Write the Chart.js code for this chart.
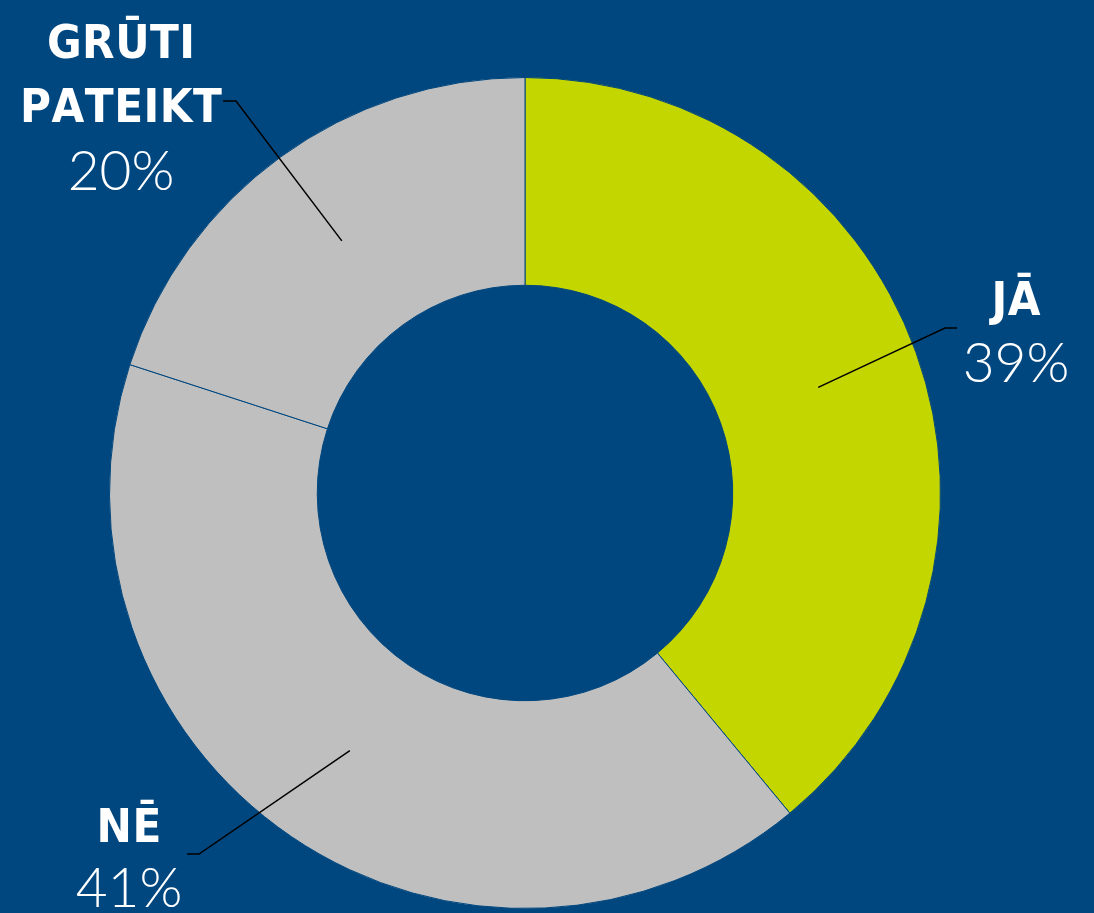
<!DOCTYPE html>
<html>
<head>
<meta charset="utf-8">
<script src="https://cdn.jsdelivr.net/npm/chart.js@4"></script>
<style>
  html, body { margin: 0; padding: 0; background: #00477f; }
  #wrap { width: 1094px; height: 913px; position: relative; }
</style>
</head>
<body>
<div id="wrap"><canvas id="donutChart"></canvas></div>
<script>
// Chart Data
const categories = ['JĀ', 'NĒ', 'GRŪTI\nPATEIKT'];
const shares = [39, 41, 20];
const sliceColors = ['#c4d600', '#bfbfbf', '#bfbfbf'];

// label layout: elbow offset from centre, horizontal stub, text centre x
const labelLayout = [
    { elbow: [420, -165], stub: 12, textX: 1016, nameY: 315, pctY: 382 },
    { elbow: [-326, 361], stub: -12, textX: 129, nameY: 842, pctY: 907 },
    { elbow: [-289, -392], stub: -13, textX: 121, nameY: 58, pctY: 190 }
];

const calloutPlugin = {
    id: 'callouts',
    afterDatasetsDraw(chart) {
        const ctx = chart.ctx;
        const meta = chart.getDatasetMeta(0);
        meta.data.forEach((arc, i) => {
            const lay = labelLayout[i];
            const p = arc.tooltipPosition();
            const ex = arc.x + lay.elbow[0];
            const ey = arc.y + lay.elbow[1];
            ctx.save();
            ctx.strokeStyle = '#000';
            ctx.lineWidth = 1.5;
            ctx.beginPath();
            ctx.moveTo(p.x, p.y);
            ctx.lineTo(ex, ey);
            ctx.lineTo(ex + lay.stub, ey);
            ctx.stroke();

            ctx.fillStyle = '#fff';
            ctx.textAlign = 'center';
            ctx.textBaseline = 'alphabetic';
            ctx.font = 'bold 47px "Liberation Sans Narrow", "DejaVu Sans Condensed", sans-serif';
            const lines = categories[i].split('\n');
            lines.forEach((ln, k) => {
                const y = lay.nameY + k * 64;
                drawSpaced(ctx, ln, lay.textX, y, 0.5);
            });
            ctx.font = '300 55px Lato';
            ctx.fillText(shares[i] + '%', lay.textX, lay.pctY);
            ctx.restore();
        });
    }
};

function drawSpaced(ctx, text, cx, y, spacing) {
    const chars = [...text];
    const widths = chars.map(c => ctx.measureText(c).width);
    const total = widths.reduce((a, b) => a + b, 0) + spacing * (chars.length - 1);
    let x = cx - total / 2;
    ctx.textAlign = 'left';
    chars.forEach((c, k) => {
        ctx.fillText(c, x, y);
        x += widths[k] + spacing;
    });
    ctx.textAlign = 'center';
}

const donutCtx = document.getElementById('donutChart').getContext('2d');
new Chart(donutCtx, {
    type: 'doughnut',
    data: {
        labels: categories,
        datasets: [{
            data: shares,
            backgroundColor: sliceColors,
            borderColor: '#00477f',
            borderWidth: 1
        }]
    },
    options: {
        responsive: true,
        maintainAspectRatio: false,
        animation: false,
        cutout: '50%',
        layout: {
            padding: { left: 109, right: 153, top: 77, bottom: 4 }
        },
        plugins: {
            legend: { display: false },
            tooltip: { enabled: false }
        }
    },
    plugins: [calloutPlugin]
});
</script>
</body>
</html>
